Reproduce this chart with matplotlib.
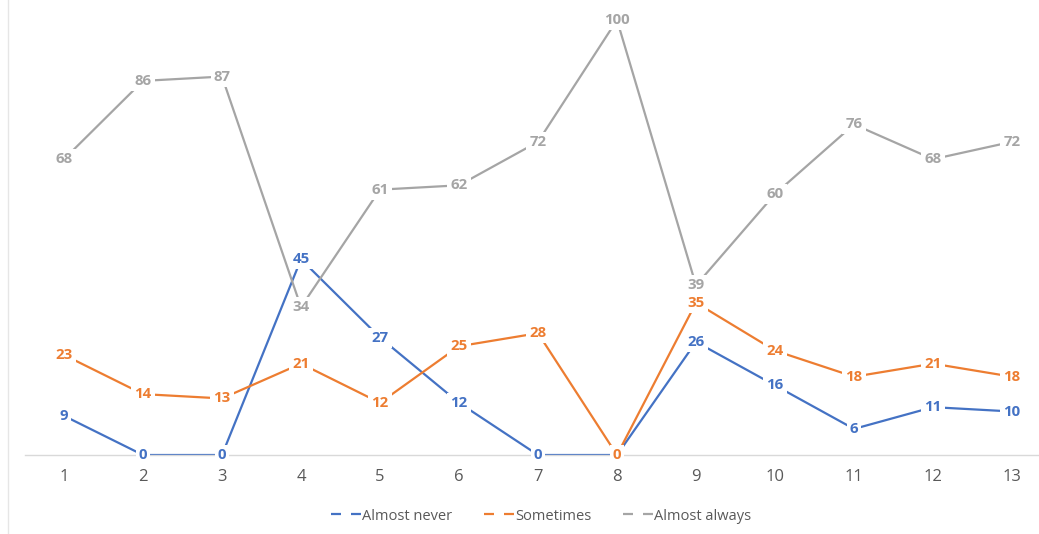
import matplotlib
matplotlib.use("Agg")
import matplotlib.pyplot as plt
from matplotlib.lines import Line2D

categories = [1, 2, 3, 4, 5, 6, 7, 8, 9, 10, 11, 12, 13]
almost_never = [9, 0, 0, 45, 27, 12, 0, 0, 26, 16, 6, 11, 10]
sometimes = [23, 14, 13, 21, 12, 25, 28, 0, 35, 24, 18, 21, 18]
almost_always = [68, 86, 87, 34, 61, 62, 72, 100, 39, 60, 76, 68, 72]

series = [
    ("Almost never", almost_never, "#4472C4"),
    ("Sometimes", sometimes, "#ED7D31"),
    ("Almost always", almost_always, "#A5A5A5"),
]

plt.rcParams['font.family'] = ['Open Sans', 'DejaVu Sans']

W, H = 1039, 534
fig = plt.figure(figsize=(W / 100, H / 100), dpi=100)
left_px, right_px = 24.5, 1051.5
top_px, bottom_px = 10, 455
ax = fig.add_axes([left_px / W, 1 - bottom_px / H, (right_px - left_px) / W, (bottom_px - top_px) / H])

ax.set_xlim(0.5, 13.5)
ax.set_ylim(0, (bottom_px - top_px) / 4.35)

handles = []
for name, vals, col in series:
    ax.plot(categories, vals, color=col, lw=1.6, zorder=2, solid_capstyle='butt')
    for x, v in zip(categories, vals):
        ax.text(x, v, str(v), color=col, fontsize=10.8, fontweight='bold',
                ha='center', va='center', zorder=5,
                bbox=dict(boxstyle='square,pad=0.2', fc='white', ec='none'))
    handles.append(Line2D([0], [0], color=col, lw=1.6, dashes=(4.5, 4.5)))

for s in ['top', 'right', 'left']:
    ax.spines[s].set_visible(False)
ax.spines['bottom'].set_color('#D9D9D9')
ax.spines['bottom'].set_linewidth(1.0)
ax.set_yticks([])
ax.set_xticks(categories)
ax.set_xticklabels([str(c) for c in categories], fontsize=12, color='#595959')
ax.tick_params(axis='x', length=0, pad=10)

fig.legend(handles, [s[0] for s in series], loc='center', bbox_to_anchor=(541 / W, 1 - 516 / H),
           ncol=3, frameon=False, fontsize=10.5, labelcolor='#595959',
           handlelength=2.06, handletextpad=0.05, columnspacing=2.2)

# chart-area left border
fig.add_artist(Line2D([8 / W, 8 / W], [0, 1], color='#E6E6E6', lw=1))

fig.savefig("out.png", dpi=100, facecolor='white')
